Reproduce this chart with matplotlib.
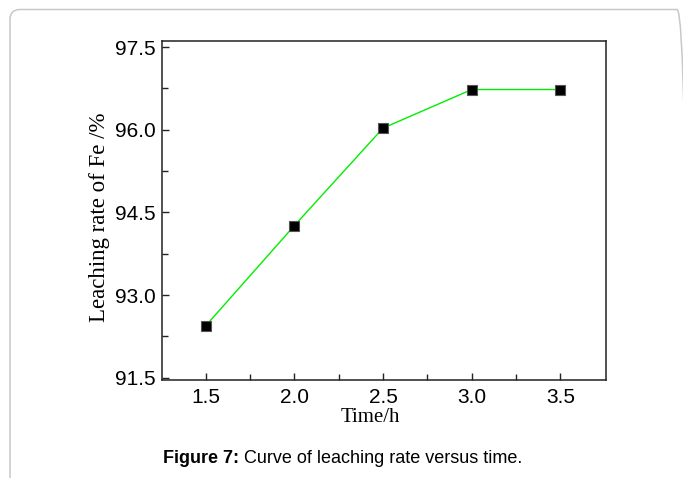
import matplotlib
matplotlib.use("Agg")
import matplotlib.pyplot as plt
import matplotlib.transforms as mtransforms
from matplotlib.patches import FancyBboxPatch
from matplotlib.ticker import FixedLocator

# data
time_h = [1.5, 2.0, 2.5, 3.0, 3.5]
leach_rate = [92.44, 94.26, 96.03, 96.73, 96.73]
x_ticks = [1.5, 2.0, 2.5, 3.0, 3.5]
x_minor = [1.75, 2.25, 2.75, 3.25]
y_ticks = [91.5, 93.0, 94.5, 96.0, 97.5]
y_minor = [92.25, 93.75, 95.25, 96.75]

W, H = 683, 478
fig = plt.figure(figsize=(W / 100, H / 100), dpi=100)

# light rounded frame around the figure (page panel)
frame = FancyBboxPatch((10, -40), 677, H - 9.5 + 40,
                       boxstyle="round,pad=0,rounding_size=10",
                       transform=mtransforms.IdentityTransform(),
                       facecolor="none", edgecolor="#c8c8c8", linewidth=1.1)
fig.patches.append(frame)

ax = fig.add_axes([161.5 / W, 1 - 379.5 / H, 444 / W, 339 / H])
ax.plot(time_h, leach_rate, color="#00ee00", linewidth=1.0, marker="s",
        markersize=7.4, markerfacecolor="black", markeredgecolor="#555555",
        markeredgewidth=0.8)

ax.set_xlim(1.251, 3.754)
ax.set_ylim(91.467, 97.62)
ax.set_xticks(x_ticks)
ax.set_yticks(y_ticks)
ax.xaxis.set_minor_locator(FixedLocator(x_minor))
ax.yaxis.set_minor_locator(FixedLocator(y_minor))
ax.set_xticklabels(["%.1f" % v for v in x_ticks])
ax.set_yticklabels(["%.1f" % v for v in y_ticks])

for s in ax.spines.values():
    s.set_linewidth(1.1)
    s.set_color("#222222")

ax.tick_params(which="both", direction="in", top=False, right=False,
               width=1.0, color="#222222")
ax.tick_params(which="major", length=4.8)
ax.tick_params(which="minor", length=4.3)
ax.tick_params(axis="x", which="major", pad=6.3,
               labelsize=15, labelfontfamily="Liberation Sans")
ax.tick_params(axis="y", which="major", pad=4.5,
               labelsize=15, labelfontfamily="Liberation Sans")

# axis titles (serif, placed like the reference)
fig.text(100 / W, 1 - 217.5 / H, "Leaching rate of Fe /%", rotation=90,
         ha="center", va="center", fontsize=16.5, family="Liberation Serif")
fig.text(370 / W, 1 - 417 / H, "Time/h", ha="center", va="center",
         fontsize=15, family="Liberation Serif")

# caption: bold part then regular part
x0 = 162.7 / W
yb = 1 - 463 / H
t1 = fig.text(x0, yb, "Figure 7: ", ha="left", va="baseline", fontsize=13,
              fontweight="bold", family="Liberation Sans")
fig.canvas.draw()
bb = t1.get_window_extent(renderer=fig.canvas.get_renderer())
fig.text(bb.x1 / W, yb, "Curve of leaching rate versus time.", ha="left",
         va="baseline", fontsize=13, family="Liberation Sans")

fig.savefig("out.png", dpi=100)
